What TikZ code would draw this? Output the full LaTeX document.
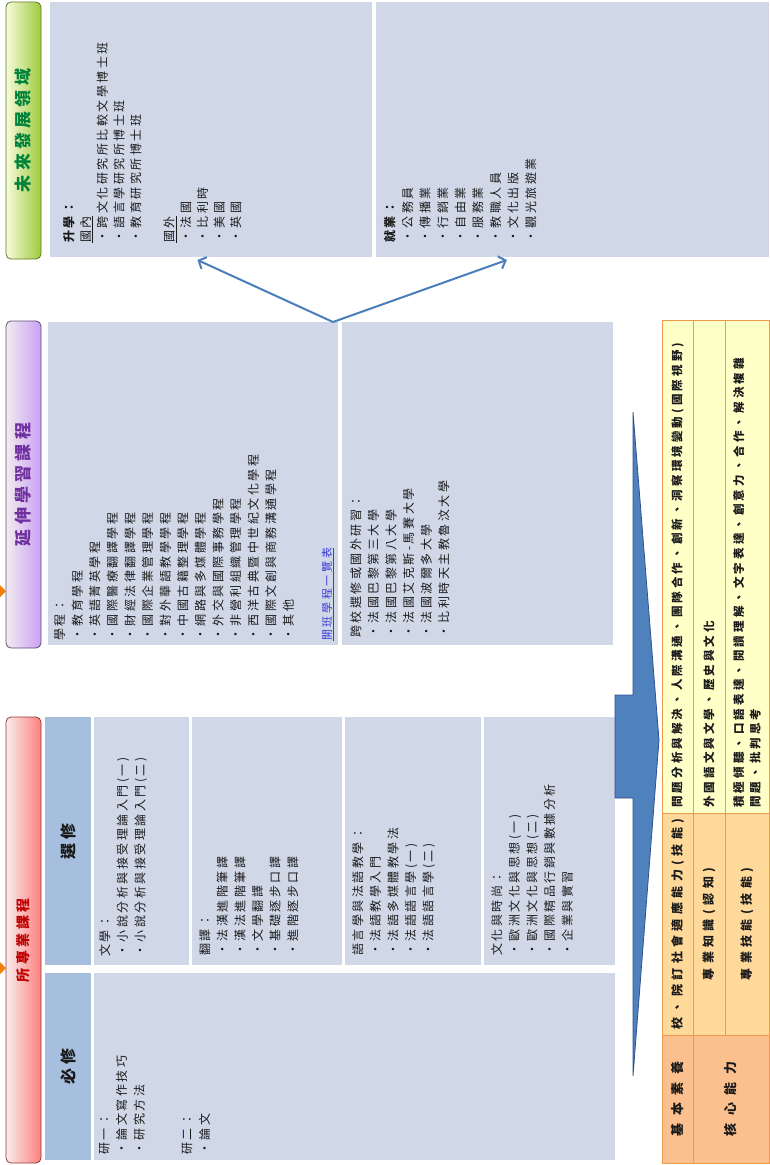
\documentclass[tikz,border=0pt]{standalone}
\usepackage{fontspec}
\usetikzlibrary{arrows.meta,calc,fit}

% CJK families with different tracking
\newfontfamily\tcbody{Noto Sans CJK TC}[LetterSpace=21]
\newfontfamily\tchead{Noto Sans CJK TC}[LetterSpace=25]
\newfontfamily\tcrow{Noto Sans CJK TC}[LetterSpace=27]
\newfontfamily\tcmid{Noto Sans CJK TC}[LetterSpace=37]
\newfontfamily\tcwide{Noto Sans CJK TC}[LetterSpace=57]
\newfontfamily\tclink{Noto Sans CJK TC}[LetterSpace=24]

\definecolor{panelfill}{HTML}{D0D8E8}
\definecolor{colhead}{HTML}{A7BFDE}
\definecolor{ink}{HTML}{1A1A1A}
\definecolor{linkblue}{HTML}{3B3BD6}
\definecolor{arrowblue}{HTML}{4A7EBB}
\definecolor{blockfill}{HTML}{4F81BD}
\definecolor{blockline}{HTML}{2F528F}
\definecolor{tiporange}{HTML}{F07F09}
\definecolor{majortext}{HTML}{C00000}
\definecolor{majorlight}{HTML}{F8ECEC}
\definecolor{majordark}{HTML}{FF7F7F}
\definecolor{majorline}{HTML}{943634}
\definecolor{exttext}{HTML}{7030A0}
\definecolor{extlight}{HTML}{F2ECEE}
\definecolor{extdark}{HTML}{C9A0F5}
\definecolor{extline}{HTML}{5F497A}
\definecolor{futtext}{HTML}{00823B}
\definecolor{futlight}{HTML}{F8FADC}
\definecolor{futdark}{HTML}{9CCB3C}
\definecolor{futline}{HTML}{5B7A1E}
\definecolor{colA}{HTML}{FBC08D}
\definecolor{colB}{HTML}{FED99A}
\definecolor{colC}{HTML}{FFFFC8}
\definecolor{gridline}{HTML}{EB9B4B}

\begin{document}
\begin{tikzpicture}[x=1pt,y=-1pt,
  panel/.style={fill=panelfill, inner sep=0pt, outer sep=0pt},
  colhd/.style={fill=colhead, inner sep=0pt, outer sep=0pt},
  hdr/.style={rounded corners=5pt, line width=0.8pt, inner sep=0pt, outer sep=0pt},
  body/.style={rotate=90, anchor=north west, align=left, inner sep=0pt, text=ink,
    font=\tcbody\fontsize{12}{17.6}\selectfont},
  hdrtxt/.style={rotate=90, inner sep=0pt, font=\tchead\bfseries\fontsize{17}{17}\selectfont},
  colhdtxt/.style={rotate=90, inner sep=0pt, text=ink, font=\tchead\bfseries\fontsize{16}{16}\selectfont},
  cell/.style={draw=gridline, line width=0.6pt, inner sep=0pt, outer sep=0pt},
  celltxtA/.style={rotate=90, inner sep=0pt, text=ink, font=\tcwide\bfseries\fontsize{13}{14}\selectfont},
  celltxtB/.style={rotate=90, inner sep=0pt, text=ink, font=\tcmid\bfseries\fontsize{12}{14}\selectfont},
  celltxtC/.style={rotate=90, anchor=west, align=left, inner sep=0pt, text=ink,
    font=\tcrow\bfseries\fontsize{11.5}{16.5}\selectfont},
  conn/.style={draw=arrowblue, line width=2pt, -{Straight Barb[length=6pt,width=13pt]}},
]
\useasboundingbox (0,0) rectangle (769,1165);

% ---------- section headers ----------
\node[hdr, draw=futline, left color=futlight, right color=futdark,
      fit={(6,2) (41,259)}] (hFuture) {};
\node[hdr, draw=extline, left color=extlight, right color=extdark,
      fit={(6,321) (41,648)}] (hExt) {};
\node[hdr, draw=majorline, left color=majorlight, right color=majordark,
      fit={(6,717) (41,1163)}] (hMajor) {};
\node[hdrtxt, text=futtext] (tFuture) at (hFuture.center) {未來發展領域};
\node[hdrtxt, text=exttext] (tExt) at (hExt.center) {延伸學習課程};
\node[hdrtxt, text=majortext, font=\tchead\bfseries\fontsize{14}{14}\selectfont]
      (tMajor) at (hMajor.center) {所專業課程};

% small orange markers on the upper edge
\fill[tiporange] (0,585) -- (6,591) -- (0,597) -- cycle;
\fill[tiporange] (0,962) -- (6,968) -- (0,974) -- cycle;

% ---------- major courses ----------
\node[colhd, fit={(45,717) (91,965)}] (cElect) {};
\node[colhd, fit={(45,973) (91,1160)}] (cReq) {};
\node[colhdtxt] (tElect) at (cElect.center) {選修};
\node[colhdtxt] (tReq) at (cReq.center) {必修};

\node[panel, fit={(94,973) (615,1160)}] (pReq) {};
\node[panel, fit={(94,717) (189,965)}] (pLit) {};
\node[panel, fit={(192,717) (342,965)}] (pTrans) {};
\node[panel, fit={(345,717) (481,965)}] (pLing) {};
\node[panel, fit={(484,717) (615,965)}] (pCult) {};

\node[body] (xReq) at ($(pReq.south west)+(5,-5)$)
  {研一：\\ •論文寫作技巧\\ •研究方法\\[30pt] 研二：\\ •論文};
\node[body] (xLit) at ($(pLit.south west)+(5,-8)$)
  {文學：\\ •小說分析與接受理論入門(一)\\ •小說分析與接受理論入門(二)};
\node[body] (xTrans) at ($(pTrans.south west)+(7,-9)$)
  {翻譯：\\ •法漢進階筆譯\\ •漢法進階筆譯\\ •文學翻譯\\ •基礎逐步口譯\\ •進階逐步口譯};
\node[body] (xLing) at ($(pLing.south west)+(7,-9)$)
  {語言學與法語教學：\\ •法語教學入門\\ •法語多媒體教學法\\ •法語語言學(一)\\ •法語語言學(二)};
\node[body] (xCult) at ($(pCult.south west)+(7,-9)$)
  {文化與時尚：\\ •歐洲文化與思想(一)\\ •歐洲文化與思想(二)\\ •國際精品行銷與數據分析\\ •企業與實習};

% ---------- extended learning ----------
\node[panel, fit={(48,322) (338,645)}] (pProg) {};
\node[panel, fit={(342,322) (613,645)}] (pAbroad) {};

\node[body] (xProg) at ($(pProg.south west)+(6,-4)$)
  {學程：\\ •教育學程\\ •英語菁英學程\\ •國際醫療翻譯學程\\ •財經法律翻譯學程\\
   •國際企業管理學程\\ •對外華語教學學程\\ •中國古籍整理學程\\ •網路與多媒體學程\\
   •外交與國際事務學程\\ •非營利組織管理學程\\ •西洋古典暨中世紀文化學程\\
   •國際文創與商務溝通學程\\ •其他};
\node[rotate=90, anchor=west, inner sep=0pt, text=linkblue,
      font=\tclink\fontsize{11}{12}\selectfont] (xLink)
  at ($(pProg.south west)+(280,-4)$) {\underline{開班學程一覽表}};
\node[body] (xAbroad) at ($(pAbroad.south west)+(8,-7)$)
  {跨校選修或國外研習：\\ •法國巴黎第三大學\\ •法國巴黎第八大學\\ •法國艾克斯-馬賽大學\\
   •法國波爾多大學\\ •比利時天主教魯汶大學};

% ---------- future fields ----------
\node[panel, fit={(50,2) (372,257)}] (pStudy) {};
\node[panel, fit={(376,2) (769,257)}] (pJob) {};

\node[body, font=\tcbody\fontsize{12}{16.7}\selectfont] (xStudy)
  at ($(pStudy.south west)+(13,-14)$)
  {\textbf{升學：}\\ \underline{國內}\\ •跨文化研究所比較文學博士班\\ •語言學研究所博士班\\
   •教育研究所博士班\\[16.7pt] \underline{國外}\\ •法國\\ •比利時\\ •美國\\ •英國};
\node[body] (xJob) at ($(pJob.south west)+(8,-14)$)
  {\textbf{就業：}\\ •公務員\\ •傳播業\\ •行銷業\\ •自由業\\ •服務業\\ •教職人員\\
   •文化出版\\ •觀光旅遊業};

% fork from the programmes to the two future fields
\coordinate (fork) at ($(pProg.north east)+(-5,0)$);
\draw[conn] (fork) -- ($(pStudy.south west)!0.458!(pStudy.south east)+(0,3)$);
\draw[conn] (fork) -- ($(pJob.south west)!0.333!(pJob.south east)+(0,3)$);

% ---------- wedge linking courses to competences ----------
\draw[fill=blockfill, draw=blockline, line width=0.8pt, line join=miter]
  (633,412) -- (659,740) -- (633,1076) -- (633,798) -- (615,798)
  -- (615,695) -- (633,695) -- cycle;

% ---------- competence table ----------
\node[cell, fill=colA, fit={(662,1035) (693,1163)}] (a1) {};
\node[cell, fill=colA, fit={(693,1035) (769,1163)}] (a2) {};
\node[cell, fill=colB, fit={(662,813) (693,1035)}] (b1) {};
\node[cell, fill=colB, fit={(693,813) (725,1035)}] (b2) {};
\node[cell, fill=colB, fit={(725,813) (769,1035)}] (b3) {};
\node[cell, fill=colC, fit={(662,320) (693,813)}] (c1) {};
\node[cell, fill=colC, fit={(693,320) (725,813)}] (c2) {};
\node[cell, fill=colC, fit={(725,320) (769,813)}] (c3) {};

\node[celltxtA] (ta1) at (a1.center) {基本素養};
\node[celltxtA] (ta2) at (a2.center) {核心能力};
\node[celltxtB] (tb1) at (b1.center) {校、院訂社會適應能力(技能)};
\node[celltxtB] (tb2) at (b2.center) {專業知識(認知)};
\node[celltxtB] (tb3) at (b3.center) {專業技能(技能)};
\node[celltxtC] (tc1) at ($(c1.south)+(0,-5)$)
  {問題分析與解決、人際溝通、團隊合作、創新、洞察環境變動(國際視野)};
\node[celltxtC] (tc2) at ($(c2.south)+(0,-5)$) {外國語文與文學、歷史與文化};
\node[celltxtC] (tc3) at ($(c3.south)+(0,-5)$)
  {積極傾聽、口語表達、閱讀理解、文字表達、創意力、合作、解決複雜\\問題、批判思考};
\end{tikzpicture}
\end{document}
